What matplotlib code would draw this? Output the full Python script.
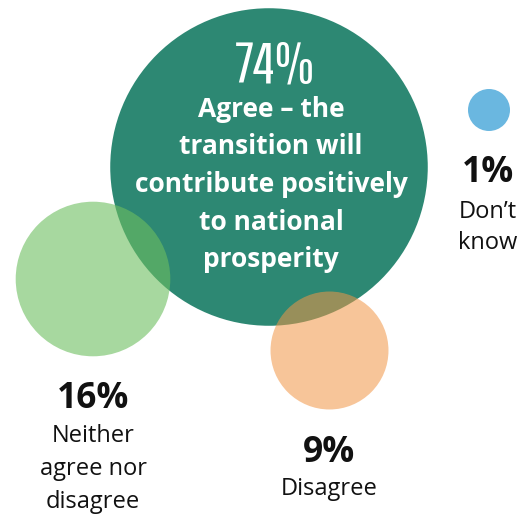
import matplotlib
matplotlib.use("Agg")
import matplotlib.pyplot as plt
from matplotlib.patches import Circle

# Survey shares (percent)
values = [74, 16, 9, 1]
pct_labels = ["74%", "16%", "9%", "1%"]
category_lines = [
    ["Agree \u2013 the", "transition will", "contribute positively", "to national", "prosperity"],
    ["Neither", "agree nor", "disagree"],
    ["Disagree"],
    ["Don\u2019t", "know"],
]

# Layout (pixel coordinates, y downwards)
centers = [(269, 167), (93, 279), (329.5, 350.5), (489, 110)]
fill_colors = ["#2D8873", "#6DBE5F", "#F29646", "#6AB7E0"]
fill_alpha = [1.0, 0.6, 0.55, 1.0]


def bubble_radius(v):
    return 21.0 * v ** 0.47


W, H = 528, 519
fig = plt.figure(figsize=(W / 100, H / 100), dpi=100)
ax = fig.add_axes([0, 0, 1, 1])
ax.set_xlim(0, W)
ax.set_ylim(H, 0)
ax.axis("off")

for (cx, cy), v, c, a in zip(centers, values, fill_colors, fill_alpha):
    ax.add_patch(Circle((cx, cy), bubble_radius(v), facecolor=c, alpha=a,
                        edgecolor="none", zorder=2))

sans = ["Open Sans", "DejaVu Sans"]
narrow = ["Pathway Gothic One", "Open Sans"]

# Main bubble: headline figure and description inside
ax.text(275, 82, pct_labels[0], ha="center", va="baseline", color="white",
        fontsize=41, family=narrow, zorder=5)
for i, line in enumerate(category_lines[0]):
    ax.text(271, 117 + i * 37.5, line, ha="center", va="baseline", color="white",
            fontsize=19, fontweight="bold", family=sans, zorder=5)

# Outside labels for the smaller bubbles
label_pos = [None, (93, 408, 442, 33), (329, 462, 495, 33), (488, 182, 218, 31)]
for k in range(1, 4):
    x, y_pct, y_first, step = label_pos[k]
    ax.text(x, y_pct, pct_labels[k], ha="center", va="baseline", color="#111111",
            fontsize=25.5, fontweight="bold", family=sans, zorder=5)
    for i, line in enumerate(category_lines[k]):
        ax.text(x, y_first + i * step, line, ha="center", va="baseline",
                color="#111111", fontsize=17, family=sans, zorder=5)

fig.savefig("out.png", dpi=100, facecolor="white")
